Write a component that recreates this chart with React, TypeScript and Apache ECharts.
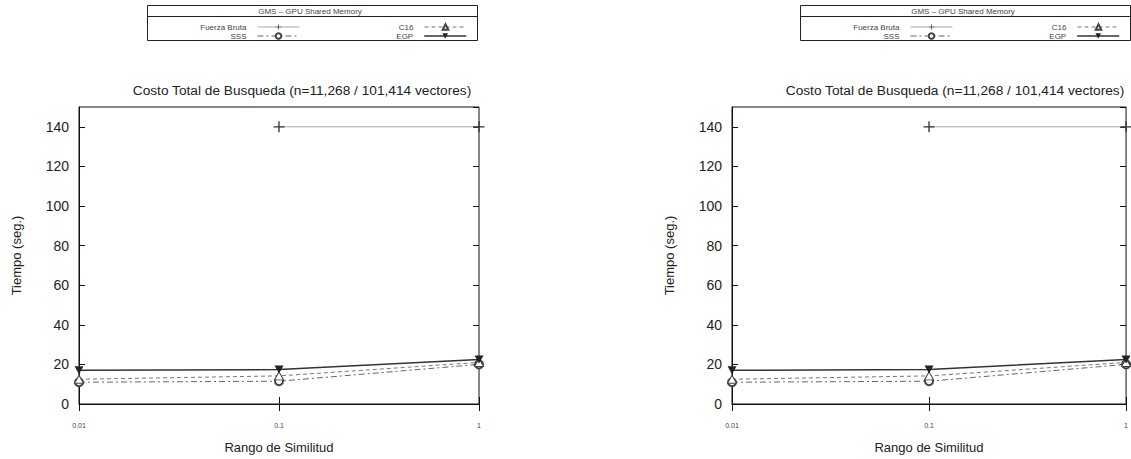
import React, { useEffect, useRef } from "react";
import * as echarts from "echarts";

// Search range (log scale) and total search time per method, in seconds
const rangos = [0.01, 0.1, 1];
const fuerzaBruta: (number | null)[] = [null, 140, 140];
const sss = [11, 11.5, 20];
const c16 = [12.5, 14.2, 21];
const egp = [17, 17.4, 22.5];

const yMin = 0;
const yMax = 150;
const yInterval = 20;

const titulo = "Costo Total de Busqueda (n=11,268 / 101,414 vectores)";
const tituloLeyenda = "GMS \u2013 GPU Shared Memory";
const nombreX = "Rango de Similitud";
const nombreY = "Tiempo (seg.)";
const nombresSeries = ["Fuerza Bruta", "SSS", "C16", "EGP"];

// Two identical panels, the second shifted to the right
const panelOffsets = [0, 653];

const FONT = "Liberation Sans, Arial, Helvetica, sans-serif";
const W = 1131;
const H = 459;

const plusPath = "path://M4.4,0 H5.6 V4.4 H10 V5.6 H5.6 V10 H4.4 V5.6 H0 V4.4 H4.4 Z";
const triUp = "path://M5,0 L10,9 L0,9 Z";
const triDown = "path://M0,0 L10,0 L5,9 Z";

function toPairs(values: (number | null)[]) {
  return rangos.map((x, i) => [x, values[i] === null ? null : values[i]]);
}

function buildOption() {
  const grids: any[] = [];
  const xAxes: any[] = [];
  const yAxes: any[] = [];
  const series: any[] = [];
  const titles: any[] = [];
  const legends: any[] = [];
  const graphics: any[] = [];

  panelOffsets.forEach((off, p) => {
    grids.push({
      left: 79 + off,
      top: 107,
      width: 400,
      height: 304,
      show: true,
      borderColor: "#111",
      borderWidth: 1,
      backgroundColor: "transparent",
    });

    const xBase = {
      type: "log",
      logBase: 10,
      min: 0.01,
      max: 1,
      gridIndex: p,
      splitLine: { show: false },
      minorTick: { show: false },
    };
    xAxes.push({
      ...xBase,
      position: "bottom",
      name: nombreX,
      nameLocation: "middle",
      nameGap: 37,
      nameTextStyle: { fontFamily: FONT, fontSize: 13, color: "#222" },
      axisLine: { show: true, lineStyle: { color: "#111", width: 1 } },
      axisTick: { show: true, inside: true, length: 7, lineStyle: { color: "#111" } },
      axisLabel: {
        show: true,
        margin: 18,
        fontFamily: FONT,
        fontSize: 7,
        color: "#444",
        formatter: (v: number) => String(v),
      },
    });
    xAxes.push({
      ...xBase,
      position: "top",
      axisLine: { show: false },
      axisTick: { show: true, inside: true, length: 7, lineStyle: { color: "#111" } },
      axisLabel: { show: false },
    });

    const yBase = {
      type: "value",
      min: yMin,
      max: yMax,
      interval: yInterval,
      gridIndex: p,
      splitLine: { show: false },
    };
    yAxes.push({
      ...yBase,
      position: "left",
      name: nombreY,
      nameLocation: "middle",
      nameGap: 56,
      nameRotate: 90,
      nameTextStyle: { fontFamily: FONT, fontSize: 13, color: "#222" },
      axisLine: { show: true, lineStyle: { color: "#111", width: 1 } },
      axisTick: { show: true, inside: true, length: 6, lineStyle: { color: "#111" } },
      axisLabel: {
        show: true,
        margin: 10,
        fontFamily: FONT,
        fontSize: 14,
        color: "#222",
        showMaxLabel: false,
      },
    });
    yAxes.push({
      ...yBase,
      position: "right",
      axisLine: { show: false },
      axisTick: { show: true, inside: true, length: 6, lineStyle: { color: "#111" } },
      axisLabel: { show: false },
    });

    const xi = p * 2;
    const yi = p * 2;
    series.push(
      {
        name: nombresSeries[0],
        type: "line",
        xAxisIndex: xi,
        yAxisIndex: yi,
        data: toPairs(fuerzaBruta),
        symbol: plusPath,
        symbolSize: 11,
        lineStyle: { color: "#aaa", width: 1, type: "solid" },
        itemStyle: { color: "#333" },
        z: 2,
      },
      {
        name: nombresSeries[1],
        type: "line",
        xAxisIndex: xi,
        yAxisIndex: yi,
        data: toPairs(sss),
        symbol: "emptyCircle",
        symbolSize: 8,
        lineStyle: { color: "#666", width: 1, type: [6, 3, 2, 3] },
        itemStyle: { color: "#444", borderWidth: 1 },
        z: 3,
      },
      {
        name: nombresSeries[2],
        type: "line",
        xAxisIndex: xi,
        yAxisIndex: yi,
        data: toPairs(c16),
        symbol: triUp,
        symbolSize: [9, 8],
        lineStyle: { color: "#777", width: 1, type: [4, 3] },
        itemStyle: { color: "#fff", borderColor: "#444", borderWidth: 1 },
        z: 4,
      },
      {
        name: nombresSeries[3],
        type: "line",
        xAxisIndex: xi,
        yAxisIndex: yi,
        data: toPairs(egp),
        symbol: triDown,
        symbolSize: [9, 8],
        lineStyle: { color: "#333", width: 1.5, type: "solid" },
        itemStyle: { color: "#222" },
        z: 5,
      }
    );

    titles.push({
      text: titulo,
      left: 297 + off,
      textAlign: "center",
      top: 78,
      textStyle: { fontFamily: FONT, fontSize: 13.7, fontWeight: "normal", color: "#222" },
    });

    // Legend entries: label right-aligned against its line sample
    const entries = [
      { name: nombresSeries[0], sampleRight: 300, row: 0, width: 1 },
      { name: nombresSeries[1], sampleRight: 300, row: 1, width: 1 },
      { name: nombresSeries[2], sampleRight: 467, row: 0, width: 1 },
      { name: nombresSeries[3], sampleRight: 467, row: 1, width: 1.6 },
    ];
    entries.forEach((e) => {
      legends.push({
        data: [e.name],
        right: W - (e.sampleRight + off),
        top: e.row === 0 ? 23 : 32,
        align: "right",
        orient: "horizontal",
        padding: 0,
        itemWidth: 42,
        itemHeight: 7,
        selectedMode: false,
        lineStyle: { width: e.width },
        textStyle: { fontFamily: FONT, fontSize: 8, color: "#444", padding: [0, 6, 0, 0] },
      });
    });

    graphics.push(
      {
        type: "rect",
        shape: { x: 147.5 + off, y: 5.5, width: 330, height: 35 },
        style: { fill: "none", stroke: "#222", lineWidth: 1 },
        silent: true,
      },
      {
        type: "line",
        shape: { x1: 147.5 + off, y1: 16.5, x2: 477.5 + off, y2: 16.5 },
        style: { stroke: "#222", lineWidth: 1 },
        silent: true,
      },
      {
        type: "text",
        x: 310 + off,
        y: 11,
        style: {
          text: tituloLeyenda,
          fill: "#444",
          font: `8px ${FONT}`,
          textAlign: "center",
          textVerticalAlign: "middle",
        },
        silent: true,
      }
    );
  });

  return {
    animation: false,
    backgroundColor: "#ffffff",
    title: titles,
    grid: grids,
    xAxis: xAxes,
    yAxis: yAxes,
    legend: legends,
    graphic: graphics,
    series,
  };
}

export default function App() {
  const ref = useRef<HTMLDivElement>(null);
  useEffect(() => {
    if (!ref.current) return;
    const chart = echarts.init(ref.current, null, { renderer: "svg" });
    chart.setOption(buildOption() as any);
    return () => chart.dispose();
  }, []);
  return (
    <div
      ref={ref}
      style={{ position: "absolute", left: 0, top: 0, width: W, height: H, background: "#fff" }}
    />
  );
}
